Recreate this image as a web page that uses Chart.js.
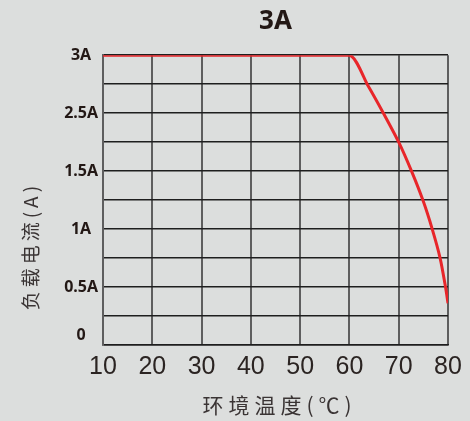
<!DOCTYPE html>
<html>
<head>
<meta charset="utf-8">
<script src="https://cdn.jsdelivr.net/npm/chart.js@4.4.1/dist/chart.umd.min.js"></script>
<style>
  html, body { margin: 0; padding: 0; background: #dcdedd; }
  #wrap { width: 470px; height: 421px; }
</style>
</head>
<body>
<div id="wrap"><canvas id="derating"></canvas></div>
<script>
"use strict";

// Derating curve (y in grid rows, 10 rows = 3A)
const chartTitle = "3A";
const temps = [10, 60, 63.6, 66.9, 70.0, 72.6, 74.9, 76.8, 78.4, 79.5, 80];
const loads = [10, 10, 9, 8, 7, 6, 5, 4, 3, 2, 1.44];
const yTickLabels = ["0", "", "0.5A", "", "1A", "", "1.5A", "", "2.5A", "", "3A"];
const xTitle = "环境温度(℃)";
const yTitle = "负载电流(A)";

const points = temps.map((t, i) => ({ x: t, y: loads[i] }));

// Axis titles drawn by hand so they can be letter-spaced like the original
const axisTitles = {
    id: "axisTitles",
    afterDraw(chart) {
        const ctx = chart.ctx;
        const area = chart.chartArea;
        ctx.save();
        ctx.fillStyle = "#3a3434";
        ctx.textAlign = "center";
        ctx.textBaseline = "middle";

        ctx.font = "21px 'Noto Sans CJK SC'";
        ctx.letterSpacing = "5px";
        ctx.fillText(xTitle, (area.left + area.right) / 2 + 4, area.bottom + 60);

        ctx.translate(31, (area.top + area.bottom) / 2 + 48);
        ctx.rotate(-Math.PI / 2);
        ctx.font = "19px 'Noto Sans CJK SC'";
        ctx.letterSpacing = "4px";
        ctx.fillText(yTitle, 2, 0);
        ctx.restore();
    }
};

new Chart(document.getElementById("derating").getContext("2d"), {
    type: "line",
    data: {
        datasets: [{
            label: chartTitle,
            data: points,
            borderColor: "#e8262a",
            borderWidth: 3,
            pointRadius: 0,
            tension: 0.2,
            fill: false
        }]
    },
    options: {
        responsive: true,
        maintainAspectRatio: false,
        animation: false,
        layout: { padding: { left: 0, right: 22, top: 0, bottom: 0 } },
        plugins: {
            legend: { display: false },
            tooltip: { enabled: false },
            title: {
                display: true,
                fullSize: false,
                text: chartTitle,
                color: "#231815",
                font: { family: "'Noto Sans'", size: 26, weight: "bold" },
                padding: { top: 6, bottom: 18 }
            }
        },
        scales: {
            x: {
                type: "linear",
                min: 10,
                max: 80,
                afterFit: (scale) => { scale.height = 76; },
                ticks: {
                    stepSize: 10,
                    padding: 7,
                    color: "#2b2422",
                    font: { family: "'Liberation Sans'", size: 25 }
                },
                grid: { color: "#5e5e5e", lineWidth: 2, drawTicks: false },
                border: { color: "#1e1e1e", width: 1.5 }
            },
            y: {
                type: "linear",
                min: 0,
                max: 10,
                afterFit: (scale) => { scale.width = 103; },
                ticks: {
                    stepSize: 1,
                    autoSkip: false,
                    crossAlign: "center",
                    padding: 5,
                    color: "#231815",
                    font: { family: "'Noto Sans'", size: 16, weight: "bold" },
                    callback: (v) => v === 0 ? ["0", ""] : yTickLabels[v]
                },
                grid: { color: "#1e1e1e", lineWidth: 1.5, drawTicks: false },
                border: { color: "#5e5e5e", width: 2 }
            }
        }
    },
    plugins: [axisTitles]
});
</script>
</body>
</html>
